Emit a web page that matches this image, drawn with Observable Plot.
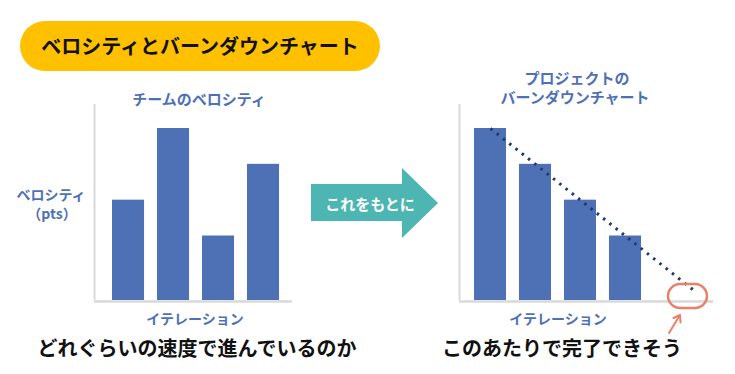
<!DOCTYPE html>
<html>
<head>
<meta charset="utf-8">
<script src="https://cdn.jsdelivr.net/npm/d3@7"></script>
<script src="https://cdn.jsdelivr.net/npm/@observablehq/plot@0.6"></script>
<style>
  html, body { margin: 0; padding: 0; background: #fff; }
  #root { position: relative; width: 735px; height: 374px; overflow: hidden; background: #fff;
          font-family: "Noto Sans CJK JP", "Noto Sans", sans-serif; }
  .lbl { position: absolute; transform: translate(-50%, -50%); white-space: nowrap; font-weight: bold; line-height: 1; }
  .blue { color: #4E71B6; }
  .chart { position: absolute; }
  .chart svg { background: transparent !important; }
</style>
</head>
<body>
<div id="root"></div>
<script>
// ---- data ----
const iterations = [1, 2, 3, 4];
const velocity = [28, 48, 18, 38];          // team velocity per iteration (pts)
const remaining = [48, 38, 28, 18];         // remaining work per iteration (pts)
const idealX = [1, 5.5];                    // burndown trend line (iteration)
const idealY = [48, 3];                     // burndown trend line (pts)

const titleText = "ベロシティとバーンダウンチャート";
const leftTitle = "チームのベロシティ";
const rightTitle = ["プロジェクトの", "バーンダウンチャート"];
const yLabel = ["ベロシティ", "（pts）"];
const xLabel = "イテレーション";
const arrowText = "これをもとに";
const leftCaption = "どれぐらいの速度で進んでいるのか";
const rightCaption = "このあたりで完了できそう";

const BLUE = "#4E71B6", GRAY = "#D9D9D9", NAVY = "#1F3A70", TEAL = "#4DB6B3", ORANGE = "#E8806A";

const root = document.getElementById("root");
function label(text, x, y, size, cls, color) {
  const d = document.createElement("div");
  d.className = "lbl " + (cls || "");
  d.textContent = text;
  d.style.left = x + "px"; d.style.top = y + "px"; d.style.fontSize = size + "px";
  if (color) d.style.color = color;
  root.appendChild(d);
  return d;
}

// title pill
const pill = document.createElement("div");
Object.assign(pill.style, {position: "absolute", left: "20px", top: "21px", width: "360px", height: "50px",
  borderRadius: "25px", background: "#FFC000"});
root.appendChild(pill);
label(titleText, 200, 46, 20, "", "#111");

// ---- left chart ----
const velData = iterations.map((i, k) => ({i, v: velocity[k]}));
const leftX = [0.244, 4.644], Y = [0, 54.7];
const left = Plot.plot({
  width: 300, height: 240,
  marginLeft: 94, marginRight: 8, marginTop: 24, marginBottom: 20,
  x: {domain: leftX, axis: null},
  y: {domain: Y, axis: null},
  style: {background: "transparent"},
  marks: [
    Plot.rectY(velData, {x1: d => d.i - 0.356, x2: d => d.i + 0.356, y: "v", fill: BLUE}),
    Plot.ruleX([leftX[0]], {y1: Y[0], y2: Y[1], stroke: GRAY, strokeWidth: 2}),
    Plot.ruleY([0], {stroke: GRAY, strokeWidth: 2.5, dy: 1})
  ]
});
const lw = document.createElement("div"); lw.className = "chart";
lw.style.left = "0px"; lw.style.top = "80px"; lw.appendChild(left); root.appendChild(lw);

label(leftTitle, 199, 98, 15, "blue");
label(yLabel[0], 51, 194, 14, "blue");
label(yLabel[1], 52, 213, 14, "blue");
label(xLabel, 195, 318, 14, "blue");

// ---- right chart ----
const remData = iterations.map((i, k) => ({i, r: remaining[k]}));
const ideal = idealX.map((x, k) => ({x, y: idealY[k]}));
const rightX = [0.311, 5.956];
const right = Plot.plot({
  width: 295, height: 270,
  marginLeft: 19, marginRight: 22, marginTop: 44, marginBottom: 30,
  x: {domain: rightX, axis: null},
  y: {domain: Y, axis: null},
  style: {background: "transparent"},
  marks: [
    Plot.rectY(remData, {x1: d => d.i - 0.356, x2: d => d.i + 0.356, y: "r", fill: BLUE}),
    Plot.ruleX([rightX[0]], {y1: Y[0], y2: Y[1], stroke: GRAY, strokeWidth: 2}),
    Plot.ruleY([0], {stroke: GRAY, strokeWidth: 2.5, dy: 1}),
    Plot.line(ideal, {x: "x", y: "y", stroke: NAVY, strokeWidth: 3, strokeDasharray: "2.5,5.5", strokeLinecap: "butt"})
  ]
});
const rw = document.createElement("div"); rw.className = "chart";
rw.style.left = "440px"; rw.style.top = "60px"; rw.appendChild(right); root.appendChild(rw);

label(rightTitle[0], 577, 77, 15, "blue");
label(rightTitle[1], 575, 96, 15, "blue");
label(xLabel, 558, 318, 14, "blue");

// ---- decorations: arrow, highlight ----
const deco = d3.create("svg").attr("width", 735).attr("height", 374)
  .style("position", "absolute").style("left", 0).style("top", 0).style("pointer-events", "none");
deco.append("polygon")
  .attr("points", "311,184 402,184 402,168 438,203 402,238 402,221 311,221")
  .attr("fill", TEAL);
deco.append("rect").attr("x", 668).attr("y", 284).attr("width", 39).attr("height", 24).attr("rx", 12)
  .attr("fill", "none").attr("stroke", ORANGE).attr("stroke-width", 2.5);
deco.append("line").attr("x1", 669).attr("y1", 333).attr("x2", 680).attr("y2", 315)
  .attr("stroke", ORANGE).attr("stroke-width", 2).attr("stroke-linecap", "round");
deco.append("polyline").attr("points", "673.5,318 680,315 680.5,322.5")
  .attr("fill", "none").attr("stroke", ORANGE).attr("stroke-width", 2).attr("stroke-linecap", "round").attr("stroke-linejoin", "round");
root.appendChild(deco.node());

label(arrowText, 370, 203, 15, "", "#fff");

// captions
label(leftCaption, 197, 348, 20, "", "#111");
label(rightCaption, 562, 348, 20, "", "#111");
</script>
</body>
</html>
